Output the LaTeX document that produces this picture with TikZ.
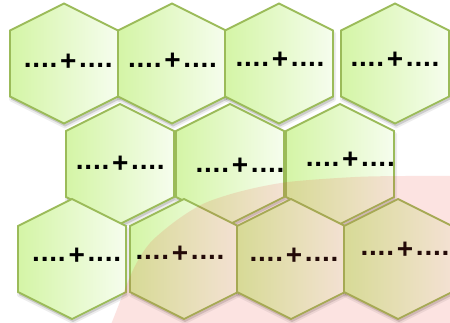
\documentclass[tikz,border=0pt]{standalone}
\usepackage{fontspec}
\setmainfont{Liberation Sans}
\definecolor{hexborder}{RGB}{155,187,89}
\definecolor{hexleft}{RGB}{212,245,166}
\definecolor{hexright}{RGB}{246,253,238}
\definecolor{pinkdisc}{RGB}{235,70,60}
\newcommand\hxd{\hbox to 8.6pt{\hss.\hss}}
\newcommand\hxtext{\hxd\hxd\hxd\hxd\hbox to 21pt{\hss\raisebox{-2.8pt}{+}\hss}\hxd\hxd\hxd\hxd}
\newcommand\hexp[3]{([shift={(#2,#3-60)}]#1) -- ++(54,27) -- ++(0,66) -- ++(-54,27) -- ++(-54,-27) -- ++(0,-66) -- cycle}
\newcommand\hexcell[1]{%
  \fill[hexshadow] \hexp{#1}{1}{3};
  \draw[hexshadow2] \hexp{#1}{1}{3};
  \path[hexfill] \hexp{#1}{0}{0};
  \draw[hexline] \hexp{#1}{0}{0};}
\begin{document}
\begin{tikzpicture}[x=1pt,y=-1pt,
  hexshadow/.style={black,opacity=.14},
  hexshadow2/.style={black,opacity=.07,line width=4pt,line join=round},
  hexfill/.style={left color=hexleft,right color=hexright},
  hexline/.style={draw=hexborder,line width=1.8pt,line join=miter},
  hxlabel/.style={font=\fontsize{28pt}{30pt}\selectfont\bfseries,inner sep=0pt,anchor=base,text=black}]
\useasboundingbox (0,0) rectangle (450,322);
\clip (0,0) rectangle (450,322);
\fill[white] (0,0) rectangle (450,322);
% hexagon centres
\coordinate (h1) at (64,63.5);
\coordinate (h2) at (172,63.5);
\coordinate (h3) at (279,63.5);
\coordinate (h4) at (395,63.5);
\coordinate (h5) at (120,164);
\coordinate (h6) at (230,164);
\coordinate (h7) at (340,164);
\coordinate (h8) at (72,259);
\coordinate (h9) at (184,259);
\coordinate (h10) at (291,259);
\coordinate (h11) at (398,259);
% hexagons
\hexcell{h1}\hexcell{h2}\hexcell{h3}\hexcell{h4}
\hexcell{h5}\hexcell{h6}\hexcell{h7}
\hexcell{h8}\hexcell{h9}\hexcell{h10}\hexcell{h11}
% texts
\node[hxlabel] (t1) at (68.3,67.5) {\hxtext};
\node[hxlabel] (t2) at (172.5,67) {\hxtext};
\node[hxlabel] (t3) at (280,66) {\hxtext};
\node[hxlabel] (t4) at (395,66) {\hxtext};
\node[hxlabel] (t5) at (120.3,169.5) {\hxtext};
\node[hxlabel] (t6) at (240,172) {\hxtext};
\node[hxlabel] (t7) at (350.3,166) {\hxtext};
\node[hxlabel] (t8) at (76.7,261.2) {\hxtext};
\node[hxlabel] (t9) at (180,259.6) {\hxtext};
\node[hxlabel] (t10) at (294,261.2) {\hxtext};
\node[hxlabel] (t11) at (405,255.2) {\hxtext};
% translucent pink disc on top
\fill[pinkdisc,opacity=.15] plot[smooth] coordinates {(106,335) (112,322) (133,270) (150,243) (177,220) (205,203) (242,191) (288,182) (355,177) (405,176) (460,176)} -- (460,335) -- cycle;
\end{tikzpicture}
\end{document}
